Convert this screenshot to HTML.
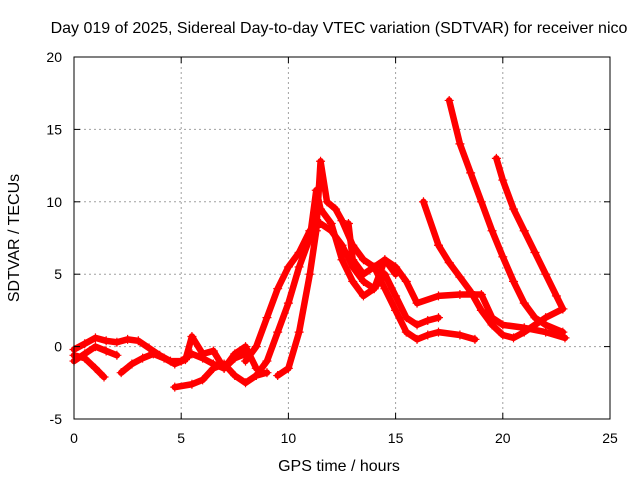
<!DOCTYPE html>
<html><head><meta charset="utf-8"><style>
body{margin:0;background:#fff;}
svg text{font-family:"Liberation Sans",sans-serif;font-size:14px;fill:#000;}
svg text.big{font-size:16px;}
</style></head><body>
<svg id="chart" width="640" height="480" xmlns="http://www.w3.org/2000/svg">
<g id="grid"></g>
<g id="series"></g>
<rect x="74" y="57" width="536" height="362" fill="none" stroke="#000" stroke-width="1"/>
<g id="ticks"></g>
<text class="big" x="339" y="33" text-anchor="middle">Day 019 of 2025, Sidereal Day-to-day VTEC variation (SDTVAR) for receiver nico</text>
<text class="big" x="339" y="471" text-anchor="middle">GPS time / hours</text>
<text class="big" x="19" y="238" text-anchor="middle" transform="rotate(-90 19 238)">SDTVAR / TECUs</text>
</svg>
<script>
const xTicks=[0,5,10,15,20,25];
const yTicks=[-5,0,5,10,15,20];
const trackA=[[0,-0.6],[0.5,-0.8],[1,-1.5],[1.4,-2.1]];
const trackB=[[0,-0.2],[0.5,0.2],[1,0.6],[1.5,0.4],[2,0.3],[2.5,0.5],[3,0.4],[3.5,-0.1],[4,-0.6],[4.5,-1],[5,-1],[5.5,-0.5],[6,-0.8],[6.5,-1.2],[7,-1.5],[7.5,-0.8],[8,-0.5]];
const trackC=[[0,-1],[0.5,-0.5],[1,0],[1.5,-0.3],[2,-0.6]];
const trackD=[[2.2,-1.8],[2.7,-1.2],[3.2,-0.8],[3.7,-0.5],[4.2,-0.8],[4.7,-1.2],[5.2,-0.9],[5.5,0.7],[6,-0.5],[6.5,-0.3],[7,-1.5],[7.5,-0.5],[8,0],[8.5,-1.5]];
const trackE=[[4.7,-2.8],[5.5,-2.6],[6,-2.3],[6.5,-1.5],[7,-1.2],[7.5,-2],[8,-2.5],[8.5,-2],[9,-1.8]];
const trackR1=[[8,-1],[8.5,0],[9,2],[9.5,4],[10,5.5],[10.5,6.5],[11,8],[11.5,8.5],[12,8],[12.5,7],[13,5.5],[13.5,4.5],[14,4],[14.5,5],[15,3.5],[15.5,2],[16,1.5],[16.5,1.8],[17,2]];
const trackR2=[[8.5,-2],[9,-1],[9.5,1],[10,3],[10.5,5.5],[11,7.5],[11.3,10.8],[11.5,9.5],[12,8.5],[12.5,6],[13,4.5],[13.5,3.5],[14,4],[14.5,6],[15,5.5],[15.5,4.5],[16,3],[17,3.5],[18,3.6],[19,3.6],[19.5,2],[20,1.5],[21,1.3],[22,1],[22.9,0.6]];
const trackR3=[[9.5,-2],[10,-1.5],[10.5,1],[11,5],[11.3,8],[11.5,12.8],[11.8,10],[12.2,9.5],[12.5,8.7],[13,7],[13.5,6],[14,5.5],[14.5,4],[15,2.5],[15.5,1],[16,0.5],[16.5,0.8],[17,1],[18,0.8],[18.7,0.5]];
const trackR4=[[12.8,8.5],[13,6],[13.5,5],[14,5.5],[14.5,6],[15,5]];
const trackT1=[[16.3,10],[17,7],[17.5,5.8],[18,4.8],[18.5,3.8],[19,2.5],[19.5,1.5],[20,0.8],[20.5,0.6],[21,1],[21.5,1.5],[22,2],[22.8,2.6]];
const trackT2=[[17.5,17],[18,14],[18.5,12],[19,10],[19.5,8],[20,6.2],[20.5,4.5],[21,3],[21.5,2],[22,1.5],[22.8,1]];
const trackT3=[[19.7,13],[20,11.5],[20.5,9.5],[21,8],[21.5,6.5],[22,5],[22.5,3.5],[22.8,2.6]];
const tracks=[trackA,trackB,trackC,trackD,trackE,trackR1,trackR2,trackR3,trackR4,trackT1,trackT2,trackT3];
const NS="http://www.w3.org/2000/svg";
const X=v=>74+v*536/25, Y=v=>419-(v+5)*362/25;
const grid=document.getElementById('grid'),ticks=document.getElementById('ticks'),ser=document.getElementById('series');
function mk(t,a,p){const e=document.createElementNS(NS,t);for(const k in a)e.setAttribute(k,a[k]);p.appendChild(e);return e;}
xTicks.forEach(v=>{
 if(v>0&&v<25){const g=mk('line',{x1:X(v),x2:X(v),y1:57,y2:419,stroke:'#a0a0a0','stroke-dasharray':'2,3'},grid);
 
 }
 const t=mk('text',{x:X(v),y:443,'text-anchor':'middle'},ticks);t.textContent=v;
 
 
 mk('line',{x1:X(v),x2:X(v),y1:419,y2:413,stroke:'#000'},ticks);
 mk('line',{x1:X(v),x2:X(v),y1:57,y2:63,stroke:'#000'},ticks);
});
yTicks.forEach(v=>{
 if(v>-5&&v<20){const g=mk('line',{x1:74,x2:610,y1:Y(v),y2:Y(v),stroke:'#a0a0a0','stroke-dasharray':'2,3'},grid);
 
 }
 const t=mk('text',{x:62,y:Y(v)+5,'text-anchor':'end'},ticks);t.textContent=v;
 
 
 mk('line',{x1:74,x2:80,y1:Y(v),y2:Y(v),stroke:'#000'},ticks);
 mk('line',{x1:610,x2:604,y1:Y(v),y2:Y(v),stroke:'#000'},ticks);
});
tracks.forEach(tr=>{
 const p=mk('polyline',{points:tr.map(d=>X(d[0])+','+Y(d[1])).join(' '),fill:'none',stroke:'#ff0000','stroke-width':6.5,'stroke-linejoin':'round','stroke-linecap':'round'},ser);
 
 
 tr.forEach(d=>{const x=X(d[0]),y=Y(d[1]);
  const m=mk('path',{d:`M${x-4.5},${y}H${x+4.5}M${x},${y-4.5}V${y+4.5}`,stroke:'#ff0000','stroke-width':1.2},ser);
  
  });
});
</script>
</body></html>
